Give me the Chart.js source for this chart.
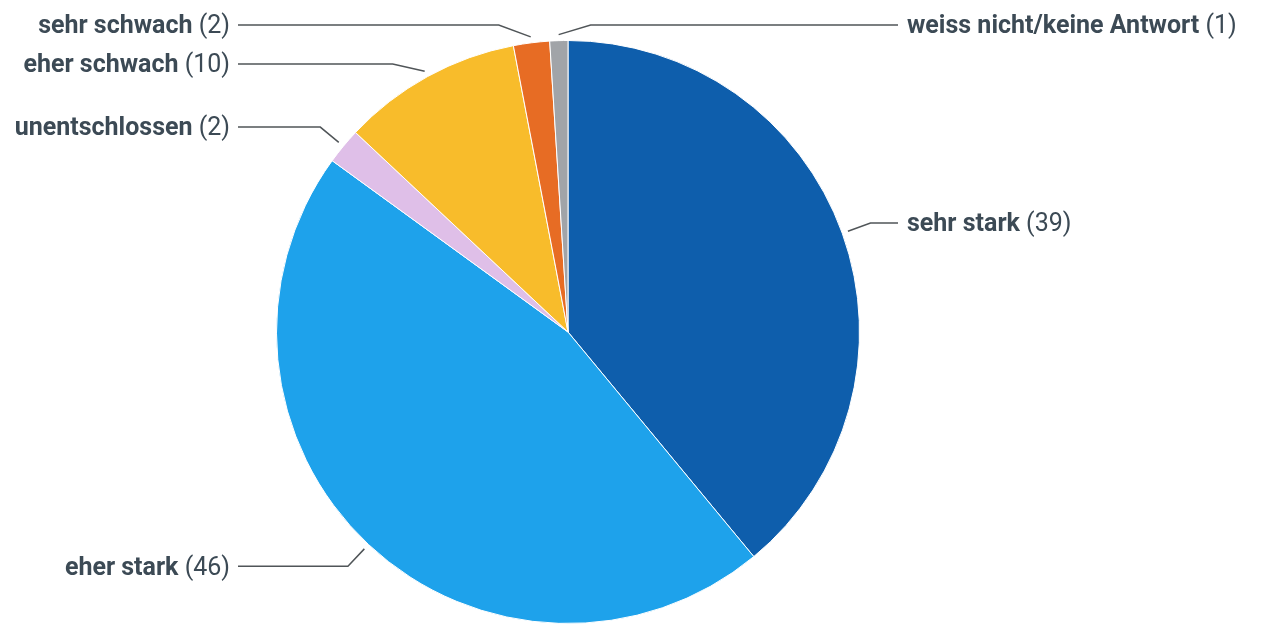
<!DOCTYPE html>
<html><head><meta charset="utf-8">
<script src="https://cdn.jsdelivr.net/npm/chart.js@4/dist/chart.umd.min.js"></script>
<style>html,body{margin:0;padding:0;background:#fff;overflow:hidden}#wrap{width:1263px;height:624px;position:relative}</style>
</head><body><div id="wrap"><canvas id="c" width="1263" height="624"></canvas></div>
<script>
const categories = ["sehr stark","eher stark","unentschlossen","eher schwach","sehr schwach","weiss nicht/keine Antwort"];
const values = [39,46,2,10,2,1];
const colors = ["#0e5eac","#1ea2eb","#dfbfe8","#f8bc2b","#e76c24","#a1a4a8"];

const FONT = '"Roboto","Open Sans",sans-serif';
const FS = 25;
const labelPlugin = {
  id:'pieLabels',
  afterDatasetsDraw(chart){
    const ctx=chart.ctx; const meta=chart.getDatasetMeta(0);
    const items=[];
    meta.data.forEach((arc,i)=>{
      const p=arc.getProps(['x','y','startAngle','endAngle','outerRadius'],true);
      const a=(p.startAngle+p.endAngle)/2, r=p.outerRadius;
      const side=Math.cos(a)< -0.05 ? -1 : 1;
      const R=r+30;
      items.push({i,a,side,cx:p.x,cy:p.y,r,R,
        ax:p.x+(r+6)*Math.cos(a), ay:p.y+(r+6)*Math.sin(a), ly:p.y+R*Math.sin(a)});
    });
    const top=25, gap=39;
    [-1,1].forEach(s=>{
      const arr=items.filter(o=>o.side===s).sort((p,q)=>p.ly-q.ly);
      let prev=-Infinity;
      arr.forEach(o=>{o.ly=Math.max(o.ly,top,prev+gap); prev=o.ly;});
    });
    ctx.save();
    items.forEach(o=>{
      const s=o.side, dy=o.ly-o.cy;
      const q=o.R*o.R-dy*dy;
      const circX = q>0 ? o.cx+s*Math.sqrt(q) : o.cx;
      let off=s*(circX-o.ax); off=Math.max(8,Math.min(32,off));
      const bx=o.ax+s*off;
      const lx=o.cx+s*330;
      ctx.strokeStyle='#505558'; ctx.lineWidth=1.5;
      ctx.beginPath(); ctx.moveTo(lx,o.ly); ctx.lineTo(bx,o.ly); ctx.lineTo(o.ax,o.ay); ctx.stroke();
      const name=categories[o.i], val=' ('+values[o.i]+')';
      ctx.font='bold '+FS+'px '+FONT; const w1=ctx.measureText(name).width;
      ctx.font='normal '+FS+'px '+FONT; const w2=ctx.measureText(val).width;
      const tx = s<0 ? o.cx-338-(w1+w2) : o.cx+339;
      const ty = o.ly+2;
      ctx.textBaseline='middle'; ctx.textAlign='left'; ctx.fillStyle='#3c4a55';
      ctx.font='bold '+FS+'px '+FONT; ctx.fillText(name,tx,ty);
      ctx.font='normal '+FS+'px '+FONT; ctx.fillText(val,tx+w1,ty);
    });
    ctx.restore();
  }
};

new Chart(document.getElementById('c'),{
  type:'pie',
  data:{labels:categories,datasets:[{data:values,backgroundColor:colors,borderColor:'#ffffff',borderWidth:1}]},
  options:{responsive:false,animation:false,
    layout:{padding:{top:40,left:0,right:127,bottom:0}},
    plugins:{legend:{display:false},tooltip:{enabled:false}}},
  plugins:[labelPlugin]
});
</script></body></html>
